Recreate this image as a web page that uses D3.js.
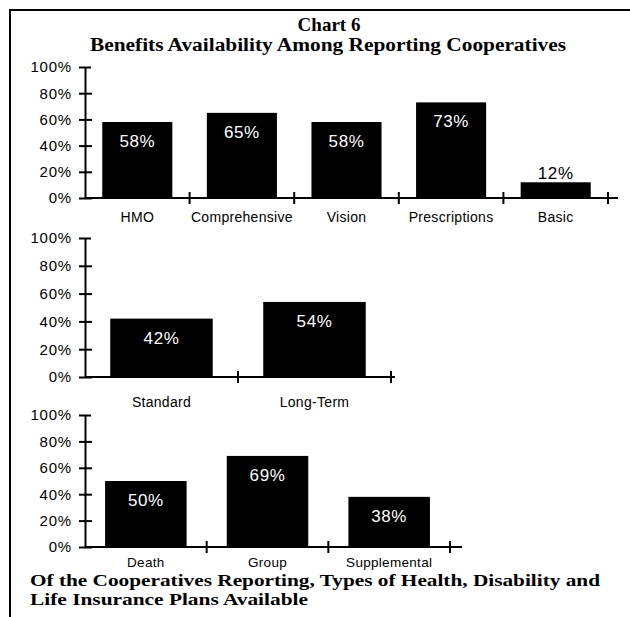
<!DOCTYPE html>
<html>
<head>
<meta charset="utf-8">
<script src="https://cdn.jsdelivr.net/npm/d3@7"></script>
<style>
  body { margin: 0; background: #fff; }
  svg { display: block; }
  .tick text { font-family: "Liberation Sans", Arial, sans-serif; }
</style>
</head>
<body>
<svg width="630" height="617"></svg>
<script>
// data
var healthCats = ["HMO", "Comprehensive", "Vision", "Prescriptions", "Basic"],
    healthVals = [58, 65, 58, 73, 12],
    disabilityCats = ["Standard", "Long-Term"],
    disabilityVals = [42, 54],
    lifeCats = ["Death", "Group", "Supplemental"],
    lifeVals = [50, 69, 38],
    yTicks = [0, 20, 40, 60, 80, 100];

var svg = d3.select("svg");

// frame (left + top only, like the scan)
svg.append("path")
    .attr("d", "M10,617V10H630")
    .attr("fill", "none")
    .attr("stroke", "#000")
    .attr("stroke-width", 2);

svg.append("text")
    .attr("x", 329).attr("y", 31)
    .attr("text-anchor", "middle")
    .style("font", "bold 19px 'Liberation Serif', 'Times New Roman', serif")
    .text("Chart 6");

svg.append("text")
    .attr("x", 328).attr("y", 51)
    .attr("text-anchor", "middle")
    .attr("textLength", 476)
    .attr("lengthAdjust", "spacingAndGlyphs")
    .style("font", "bold 18px 'Liberation Serif', 'Times New Roman', serif")
    .text("Benefits Availability Among Reporting Cooperatives");

function panel(cats, vals, x0, x1, yBottom, yTop, ext, labelDy, labelSize) {
    var pad = 0.33;
    var x = d3.scaleBand()
        .domain(cats)
        .range([x0, x1])
        .paddingInner(pad)
        .paddingOuter(pad / 2);

    var y = d3.scaleLinear()
        .domain([0, 100])
        .range([yBottom, yTop]);

    var g = svg.append("g");

    // bars
    g.selectAll("rect")
        .data(vals)
        .enter().append("rect")
        .attr("x", function(d, i) { return x(cats[i]); })
        .attr("width", x.bandwidth())
        .attr("y", function(d) { return y(d); })
        .attr("height", function(d) { return y(0) - y(d); })
        .attr("fill", "#000");

    // value labels
    g.selectAll("text.val")
        .data(vals)
        .enter().append("text")
        .attr("class", "val")
        .attr("x", function(d, i) { return x(cats[i]) + x.bandwidth() / 2; })
        .attr("y", function(d) { return d < 20 ? y(d) - 3 : y(d) + 25; })
        .attr("text-anchor", "middle")
        .attr("fill", function(d) { return d < 20 ? "#000" : "#fff"; })
        .style("font", "17px 'Liberation Sans', Arial, sans-serif")
        .style("letter-spacing", "0.6px")
        .text(function(d) { return d + "%"; });

    // y axis
    var yAxis = g.append("g")
        .attr("transform", "translate(" + x0 + ",0)")
        .call(d3.axisLeft(y).tickValues(yTicks).tickFormat(function(d) { return d + "%"; })
            .tickSizeOuter(0).tickSizeInner(6).tickPadding(7));
    yAxis.select(".domain").attr("stroke-width", 2);
    yAxis.selectAll(".tick line")
        .attr("x1", -6).attr("x2", function(d) { return d == 100 ? 6 : 7; })
        .attr("stroke-width", 2);
    yAxis.selectAll(".tick text")
        .style("font-size", "15px")
        .style("letter-spacing", "0.8px")
        .attr("fill", "#000");

    // x axis: baseline with crossing ticks at band boundaries
    var step = x.step();
    g.append("line")
        .attr("x1", x0).attr("x2", x1 + ext)
        .attr("y1", y(0)).attr("y2", y(0))
        .attr("stroke", "#000").attr("stroke-width", 2);
    g.selectAll("line.xt")
        .data(d3.range(1, cats.length + 1))
        .enter().append("line")
        .attr("class", "xt")
        .attr("x1", function(i) { return x0 + i * step; })
        .attr("x2", function(i) { return x0 + i * step; })
        .attr("y1", y(0) - 6).attr("y2", y(0) + 6)
        .attr("stroke", "#000").attr("stroke-width", 2);

    // category labels
    g.selectAll("text.cat")
        .data(cats)
        .enter().append("text")
        .attr("class", "cat")
        .attr("x", function(d) { return x(d) + x.bandwidth() / 2; })
        .attr("y", y(0) + labelDy)
        .attr("text-anchor", "middle")
        .style("font", labelSize + "px 'Liberation Sans', Arial, sans-serif")
        .style("letter-spacing", "0.3px")
        .text(function(d) { return d; });
}

panel(healthCats, healthVals, 85, 608, 198, 67, 10, 24, 14);
panel(disabilityCats, disabilityVals, 85, 391, 377, 238, 4, 30, 14);
panel(lifeCats, lifeVals, 85, 450, 547, 415, 12, 20, 13.5);

svg.append("text")
    .attr("x", 30).attr("y", 586)
    .attr("textLength", 570)
    .attr("lengthAdjust", "spacingAndGlyphs")
    .style("font", "bold 17px 'Liberation Serif', 'Times New Roman', serif")
    .text("Of the Cooperatives Reporting, Types of Health, Disability and");

svg.append("text")
    .attr("x", 30).attr("y", 605)
    .attr("textLength", 278)
    .attr("lengthAdjust", "spacingAndGlyphs")
    .style("font", "bold 17px 'Liberation Serif', 'Times New Roman', serif")
    .text("Life Insurance Plans Available");
</script>
</body>
</html>
